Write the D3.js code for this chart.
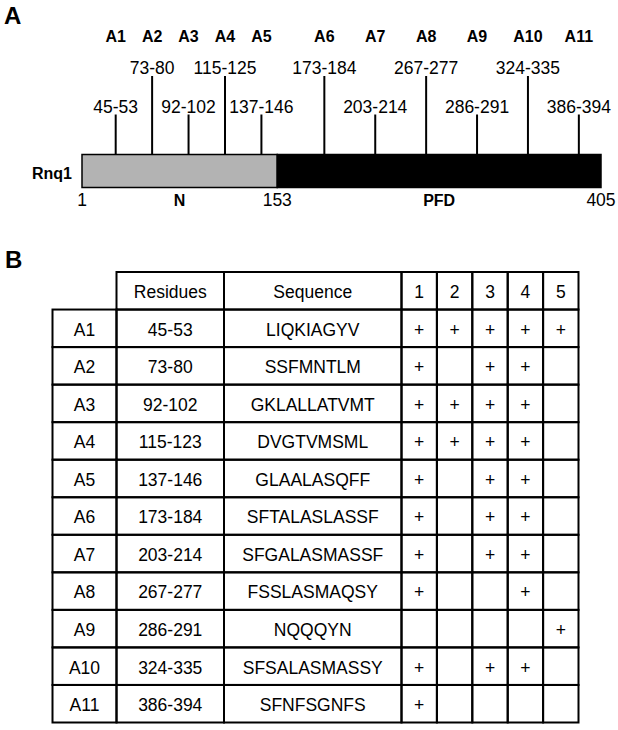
<!DOCTYPE html>
<html>
<head>
<meta charset="utf-8">
<script src="https://cdn.jsdelivr.net/npm/d3@7"></script>
<style>
  body { margin: 0; background: #fff; }
  svg { font-family: "Liberation Sans", Arial, sans-serif; display: block; }
</style>
</head>
<body>
<div id="chart"></div>
<script>
// Data
let proteinName = "Rnq1";
let proteinLength = 405;
let domainNames = ["N", "PFD"];
let domainStarts = [1, 153];
let domainEnds = [153, 405];
let motifs = ["A1", "A2", "A3", "A4", "A5", "A6", "A7", "A8", "A9", "A10", "A11"];
let diagramRanges = ["45-53", "73-80", "92-102", "115-125", "137-146", "173-184",
  "203-214", "267-277", "286-291", "324-335", "386-394"];
let tableResidues = ["45-53", "73-80", "92-102", "115-123", "137-146", "173-184",
  "203-214", "267-277", "286-291", "324-335", "386-394"];
let sequences = ["LIQKIAGYV", "SSFMNTLM", "GKLALLATVMT", "DVGTVMSML", "GLAALASQFF",
  "SFTALASLASSF", "SFGALASMASSF", "FSSLASMAQSY", "NQQQYN", "SFSALASMASSY", "SFNFSGNFS"];
let assays = ["1", "2", "3", "4", "5"];
let assayHits = [
  [1, 1, 1, 1, 1],
  [1, 0, 1, 1, 0],
  [1, 1, 1, 1, 0],
  [1, 1, 1, 1, 0],
  [1, 0, 1, 1, 0],
  [1, 0, 1, 1, 0],
  [1, 0, 1, 1, 0],
  [1, 0, 0, 1, 0],
  [0, 0, 0, 0, 1],
  [1, 0, 1, 1, 0],
  [1, 0, 0, 0, 0],
];

// Process data
let domains = domainNames.map((name, i) => ({
  name,
  start: domainStarts[i],
  end: domainEnds[i],
}));
let motifData = motifs.map((id, i) => {
  let start = parseInt(diagramRanges[i].split("-")[0]);
  let domain = domains.find((d) => start >= d.start && start < d.end).name;
  return { id, range: diagramRanges[i], start, domain, tall: i % 2 === 1 };
});

// Set up dimensions
let width = 618;
let height = 730;
let barTop = 154.5;
let barHeight = 33;
let tallStemTop = 76;
let shortStemTop = 114.5;
let fontSize = 17.5;
let boldSize = 16;

// Set up colors
let domainFill = { N: "#b3b3b3", PFD: "#000" };
let ink = "#000";

const svg = d3
  .select("#chart")
  .append("svg")
  .attr("width", width)
  .attr("height", height);

// ---------- Panel A ----------
let xScale = d3.scaleLinear().domain([1, proteinLength]).range([82, 601]);

// Stems are spread evenly inside their own domain (schematic layout)
let stemX = {};
domains.forEach((dom) => {
  let ids = motifData.filter((m) => m.domain === dom.name).map((m) => m.id);
  let s = d3
    .scalePoint()
    .domain(ids)
    .range([xScale(dom.start), xScale(dom.end)])
    .padding(0.68)
    .align(0.68);
  ids.forEach((id) => (stemX[id] = s(id)));
});

const panelA = svg.append("g").attr("class", "panel-a");

panelA
  .append("text")
  .attr("x", 4)
  .attr("y", 24)
  .attr("font-size", 24)
  .attr("font-weight", "bold")
  .text("A");

// Draw stems
panelA
  .append("g")
  .selectAll("line")
  .data(motifData)
  .join("line")
  .attr("x1", (d) => stemX[d.id])
  .attr("x2", (d) => stemX[d.id])
  .attr("y1", (d) => (d.tall ? tallStemTop : shortStemTop))
  .attr("y2", barTop)
  .attr("stroke", ink)
  .attr("stroke-width", 2);

// Draw range labels
panelA
  .append("g")
  .selectAll("text")
  .data(motifData)
  .join("text")
  .attr("x", (d) => stemX[d.id])
  .attr("y", (d) => (d.tall ? tallStemTop - 2 : shortStemTop - 1.5))
  .attr("text-anchor", "middle")
  .attr("font-size", fontSize)
  .text((d) => d.range);

// Draw motif names
panelA
  .append("g")
  .selectAll("text")
  .data(motifData)
  .join("text")
  .attr("x", (d) => stemX[d.id])
  .attr("y", 41.5)
  .attr("text-anchor", "middle")
  .attr("font-size", boldSize)
  .attr("font-weight", "bold")
  .text((d) => d.id);

// Draw domain bar
panelA
  .append("g")
  .selectAll("rect")
  .data(domains)
  .join("rect")
  .attr("x", (d) => xScale(d.start))
  .attr("y", barTop)
  .attr("width", (d) => xScale(d.end) - xScale(d.start))
  .attr("height", barHeight)
  .attr("fill", (d) => domainFill[d.name])
  .attr("stroke", ink)
  .attr("stroke-width", 1.5);

// Protein name
panelA
  .append("text")
  .attr("x", xScale(1) - 10)
  .attr("y", barTop + 24.5)
  .attr("text-anchor", "end")
  .attr("font-size", boldSize)
  .attr("font-weight", "bold")
  .text(proteinName);

// Position labels
let positions = Array.from(new Set([...domainStarts, ...domainEnds]));
panelA
  .append("g")
  .selectAll("text")
  .data(positions)
  .join("text")
  .attr("x", (d) => xScale(d))
  .attr("y", 206)
  .attr("text-anchor", "middle")
  .attr("font-size", fontSize)
  .text((d) => d);

// Domain names
panelA
  .append("g")
  .selectAll("text")
  .data(domains)
  .join("text")
  .attr("x", (d) => (xScale(d.start) + xScale(d.end)) / 2)
  .attr("y", 206)
  .attr("text-anchor", "middle")
  .attr("font-size", boldSize)
  .attr("font-weight", "bold")
  .text((d) => d.name);

// ---------- Panel B ----------
const panelB = svg.append("g").attr("class", "panel-b");

panelB
  .append("text")
  .attr("x", 5)
  .attr("y", 268)
  .attr("font-size", 24)
  .attr("font-weight", "bold")
  .text("B");

let tableFont = 17.5;
let rowIds = ["header", ...motifs];
let yScale = d3.scaleBand().domain(rowIds).range([272, 722.5]);
let fixedEdges = [52.5, 116.5, 224, 401.5];
let assayScale = d3.scaleBand().domain(assays).range([401.5, 578.5]);

let columns = [
  { key: "motif", header: "" },
  { key: "residues", header: "Residues" },
  { key: "sequence", header: "Sequence" },
  ...assays.map((a) => ({ key: a, header: a })),
];
function colX0(i) {
  return i < 3 ? fixedEdges[i] : assayScale(assays[i - 3]);
}
function colX1(i) {
  return i < 3 ? fixedEdges[i + 1] : assayScale(assays[i - 3]) + assayScale.bandwidth();
}

let cells = [];
columns.forEach((c, ci) => {
  if (ci > 0) cells.push({ row: "header", ci, text: c.header });
});
motifs.forEach((m, ri) => {
  let values = [m, tableResidues[ri], sequences[ri], ...assayHits[ri].map((h) => (h ? "+" : ""))];
  values.forEach((v, ci) => cells.push({ row: m, ci, text: v }));
});

let cellG = panelB
  .append("g")
  .selectAll("g")
  .data(cells)
  .join("g")
  .attr("transform", (d) => `translate(${colX0(d.ci)},${yScale(d.row)})`);

cellG
  .append("rect")
  .attr("width", (d) => colX1(d.ci) - colX0(d.ci))
  .attr("height", yScale.bandwidth())
  .attr("fill", "none")
  .attr("stroke", ink)
  .attr("stroke-width", 2);

cellG
  .append("text")
  .attr("x", (d) => (colX1(d.ci) - colX0(d.ci)) / 2)
  .attr("y", yScale.bandwidth() / 2)
  .attr("dy", "0.42em")
  .attr("text-anchor", "middle")
  .attr("font-size", tableFont)
  .attr("fill", ink)
  .text((d) => d.text);
</script>
</body>
</html>
